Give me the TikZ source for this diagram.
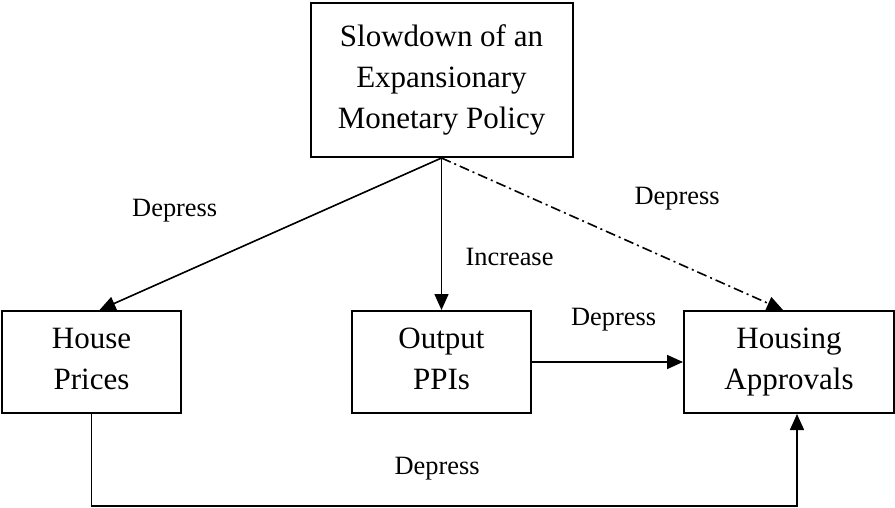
\documentclass[tikz,border=0pt]{standalone}
\usepackage{fontspec}
\setmainfont{Liberation Serif}
\usetikzlibrary{positioning,arrows.meta}

\begin{document}
\begin{tikzpicture}[x=0.5pt, y=-0.5pt,
        >={Triangle[length=8pt,width=7pt]},
        % Define block style
        block/.style={
        rectangle,
        draw,
        line width=1pt,
        align=center,
        minimum width=89.5pt,
        minimum height=51pt,
        font=\fontsize{15.5pt}{20.5pt}\selectfont
        },
        link/.style={->, line width=0.8pt},
        tag/.style={font=\fontsize{13.2pt}{16pt}\selectfont}]
        \useasboundingbox (0,0) rectangle (895,508);
        % Nodes
        \node[block, minimum width=131pt, minimum height=77pt] (policy) at (441.5,80) {Slowdown of an\\Expansionary\\Monetary Policy};
        \node[block, below of=policy, node distance=141pt] (output) {Output\\PPIs\vphantom{p}};
        \node[block, left of=output, node distance=175pt] (house) {House\\Prices\vphantom{p}};
        \node[block, right of=output, node distance=173.75pt, minimum width=105pt] (approvals) {Housing\\Approvals};
        \coordinate (low) at (0,506);
        \coordinate (entry) at ([xshift=4pt]approvals.south);

        % Arrows
        \draw[link] (policy.south) -- node[tag, pos=.78, yshift=33pt] {Depress} ([xshift=4pt]house.north);
        \draw[link] (policy.south) -- node[tag, pos=.65, xshift=34pt] {Increase} (output.north);
        \draw[link, dash pattern=on 5pt off 2pt on 1pt off 2pt] (policy.south) -- node[tag, pos=.69, yshift=32pt] {Depress} ([xshift=-3pt]approvals.north);
        \draw[link] (output.east) -- node[tag, pos=.54, yshift=21pt] {Depress} (approvals.west);
        \draw[link] (house.south) -- (house.south |- low) -- node[tag, pos=.49, yshift=18.5pt] {Depress} (entry |- low) -- (entry);
    \end{tikzpicture}
\end{document}
